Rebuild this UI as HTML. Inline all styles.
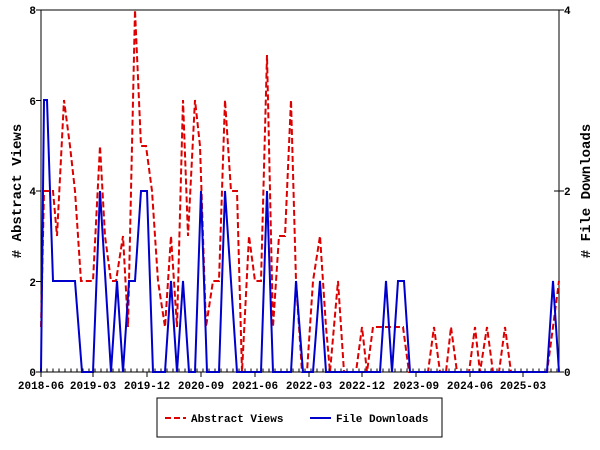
<!DOCTYPE html>
<html><head><style>body{margin:0;background:#fff}svg{display:block}text{font-family:"Liberation Mono",monospace;font-size:11px;font-weight:bold;fill:#000}</style></head>
<body>
<svg width="600" height="450" xmlns="http://www.w3.org/2000/svg">
<rect width="600" height="450" fill="#fff"/>
<g stroke="#000" stroke-width="1" fill="none">
<line x1="41" y1="10" x2="559" y2="10"/>
<line x1="41" y1="10" x2="41" y2="372"/>
<line x1="559" y1="10" x2="559" y2="372"/>
<line x1="41" y1="372" x2="559" y2="372"/>
<line x1="36" y1="10" x2="41" y2="10"/><line x1="36" y1="100.5" x2="41" y2="100.5"/><line x1="36" y1="191" x2="41" y2="191"/><line x1="36" y1="281.5" x2="41" y2="281.5"/><line x1="36" y1="372" x2="41" y2="372"/>
<line x1="554" y1="10" x2="564" y2="10"/><line x1="554" y1="191" x2="564" y2="191"/><line x1="559" y1="372" x2="564" y2="372"/>
</g>
<text x="36" y="14" text-anchor="end">8</text>
<text x="36" y="105" text-anchor="end">6</text>
<text x="36" y="195" text-anchor="end">4</text>
<text x="36" y="286" text-anchor="end">2</text>
<text x="36" y="376" text-anchor="end">0</text>
<text x="564" y="14">4</text>
<text x="564" y="195">2</text>
<text x="564" y="376">0</text>
<g text-anchor="middle">
<text x="41" y="389">2018-06</text><text x="93" y="389">2019-03</text><text x="147" y="389">2019-12</text><text x="201" y="389">2020-09</text><text x="255" y="389">2021-06</text><text x="309" y="389">2022-03</text><text x="362" y="389">2022-12</text><text x="416" y="389">2023-09</text><text x="470" y="389">2024-06</text><text x="523" y="389">2025-03</text>
</g>
<text transform="translate(21,191) rotate(-90)" text-anchor="middle" style="font-size:14px">  # Abstract Views</text>
<text transform="translate(590,191) rotate(-90)" text-anchor="middle" style="font-size:14px">  # File Downloads</text>
<polyline fill="none" stroke="#d00" stroke-width="2" stroke-dasharray="6,3" points="41,327 44,191 53,191 57,236 64,100 70,146 75,191 81,281 93,281 100,146 105,236 111,281 116,281 123,236 128,327 135,10 141,146 146,146 152,191 158,281 165,327 171,236 177,327 183,100 188,236 195,100 200,146 206,327 213,281 219,281 225,100 231,191 237,191 242,372 249,236 255,281 261,281 267,55 273,327 279,236 285,236 291,100 296,281 302,372 307,372 313,281 320,236 326,327 330,372 338,281 344,372 356,372 362,327 367,372 373,327 403,327 409,372 428,372 434,327 440,372 446,372 451,327 457,372 469,372 475,327 480,372 487,327 493,372 499,372 505,327 511,372 547,372 553,327 559,281"/>
<polyline fill="none" stroke="#00c" stroke-width="2" points="41,372 44,100 47,100 53,281 75,281 82,372 93,372 100,191 111,372 117,281 123,372 129,281 135,281 141,191 147,191 153,372 165,372 171,281 177,372 183,281 189,372 195,372 201,191 207,372 219,372 225,191 237,372 261,372 267,191 273,372 291,372 296,281 303,372 313,372 320,281 326,372 380,372 386,281 392,372 398,281 404,281 410,372 547,372 553,281 559,372"/>
<rect x="157" y="398" width="285" height="39" fill="#fff" stroke="#000"/>
<line x1="165" y1="418" x2="186" y2="418" stroke="#d00" stroke-width="2" stroke-dasharray="6,3"/>
<text x="191" y="422">Abstract Views</text>
<line x1="310" y1="418" x2="331" y2="418" stroke="#00c" stroke-width="2"/>
<text x="336" y="422">File Downloads</text>
<g stroke="#000">
<path d="M41,372v5M93,372v5M147,372v5M201,372v5M255,372v5M309,372v5M362,372v5M416,372v5M470,372v5M523,372v5"/>
<line x1="40.5" y1="370" x2="559" y2="370" stroke-width="3" stroke-dasharray="1,5"/>
</g>
</svg>
</body></html>
